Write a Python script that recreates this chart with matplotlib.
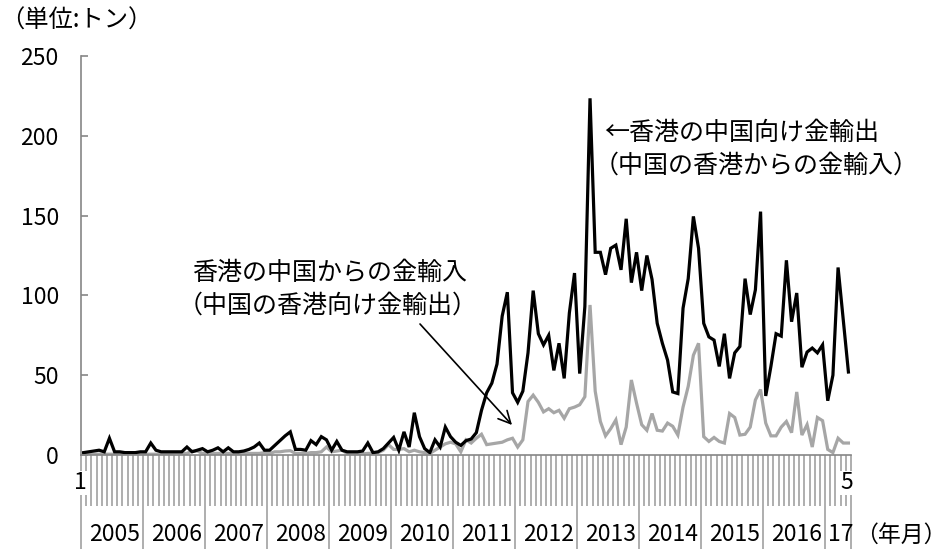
import numpy as np
import matplotlib.pyplot as plt
from matplotlib.transforms import blended_transform_factory

plt.rcParams['font.family'] = ['Noto Sans CJK JP', 'DejaVu Sans']

# monthly gold trade, tonnes, Jan 2005 - May 2017
hk_to_china = [
    1.5, 2, 2.5, 3, 2, 10.5, 2, 2, 1.5, 1.5, 1.5, 2,              # 2005
    2, 7.5, 3, 2, 2, 2, 2, 2, 5, 2, 3, 4,                         # 2006
    2, 3, 4.5, 2, 4.5, 2, 2, 2.5, 3.5, 5, 7.5, 3,                 # 2007
    3, 6, 9, 12, 14.5, 3.5, 3.5, 3, 9, 6.5, 11.5, 9.5,            # 2008
    3, 8.5, 3, 2, 2, 2, 2.5, 7.5, 1.5, 2, 4, 7.5,                 # 2009
    11, 3, 14.5, 5, 26.5, 11.5, 4, 1.5, 9.5, 5, 17.5, 11.5,       # 2010
    8, 6, 9, 10, 14, 28, 39, 45, 57, 87, 102, 39,                 # 2011
    33, 40, 64, 103, 76, 69, 75, 53, 70, 48, 89, 114,             # 2012
    51, 93, 223.5, 127, 127, 113, 129.5, 131.5, 116, 148, 108, 127,  # 2013
    103, 125, 110, 82.5, 70, 59.5, 39.5, 38.5, 92, 110.5, 149.5, 129.5,  # 2014
    82.5, 74, 72, 55.5, 76, 48, 64, 68, 110.5, 88, 103.5, 152.5,  # 2015
    37, 55.5, 76, 74.5, 122, 83.5, 101.5, 55, 64.5, 67, 64, 69,   # 2016
    34, 50, 117.5, 84.5, 52,                                      # 2017
]
china_to_hk = [
    0.5, 0.5, 0.5, 0.5, 0.5, 0.5, 0.5, 0.5, 0.5, 0.5, 0.5, 0.5,
    0.5, 0.5, 0.5, 0.5, 0.5, 1, 1.5, 1, 1, 2.5, 2.5, 1,
    1, 1, 1, 1, 1, 1, 1, 1, 1, 1, 1, 1.5,
    1, 2, 2, 2.5, 2.7, 1, 1, 1, 1.5, 1.5, 2, 5,
    2, 2.5, 3, 1, 0.7, 0.7, 0.7, 1, 1, 1.5, 3, 6.5,
    3.5, 3.5, 4, 2, 3, 2, 1.5, 1, 3, 5, 7, 8,
    7, 2, 9.5, 7.5, 10.5, 13, 6.5, 7, 7.5, 8, 9.5, 10.5,
    5, 9.5, 33.5, 37.5, 33, 27, 29, 26.5, 28, 23, 29, 30,
    31.5, 36.5, 94, 40, 21, 12, 16.5, 22, 6.5, 17.5, 47, 32.5,
    19, 15.5, 26, 15.5, 15, 20, 18, 12.5, 30, 43, 62.5, 70,
    11.5, 8.5, 11, 8.5, 7.5, 26, 23.5, 12.5, 13, 17.5, 34.5, 41,
    20, 12, 12, 17.5, 21, 14, 39.5, 12.5, 19, 5, 23.5, 21.5,
    3.5, 1.5, 10.5, 7.5, 7.5,
]
year_labels = ['2005', '2006', '2007', '2008', '2009', '2010', '2011',
               '2012', '2013', '2014', '2015', '2016', '17']
months_per_year = [12] * 12 + [5]

W, H = 949, 549
fig = plt.figure(figsize=(W / 100, H / 100), dpi=100)
ax = fig.add_axes([81 / W, 1 - 455 / H, 770 / W, 399 / H])

x = np.arange(len(hk_to_china))
ax.plot(x, china_to_hk, color='#a6a6a6', lw=2.3, solid_joinstyle='miter')
ax.plot(x, hk_to_china, color='black', lw=2.3, solid_joinstyle='miter')

ax.set_xlim(-0.5, len(x) - 0.5)
ax.set_ylim(0, 250)
for s in ['top', 'right']:
    ax.spines[s].set_visible(False)
for s in ['left', 'bottom']:
    ax.spines[s].set_color('#868686')
    ax.spines[s].set_linewidth(1.2)

ax.set_yticks(range(0, 251, 50))
ax.tick_params(axis='y', direction='in', length=5, width=1.2, color='#868686',
               labelsize=16.5, pad=16)

bounds = np.cumsum([0] + months_per_year) - 0.5
ax.set_xticks(bounds)
ax.set_xticklabels([''] * len(bounds))
ax.set_xticks(x - 0.5, minor=True)
ax.tick_params(axis='x', which='major', direction='out', length=68, width=1.1,
               color='#999999')
ax.tick_params(axis='x', which='minor', direction='out', length=37, width=1.1,
               color='#999999')

trans = blended_transform_factory(ax.transData, ax.transAxes)
ax.text(-0.6, -0.07, '1', transform=trans, ha='center', va='center', fontsize=16.5,
        bbox=dict(fc='white', ec='none', pad=0.3))
ax.text(len(x) - 1.4, -0.07, '5', transform=trans, ha='center', va='center',
        fontsize=16.5, bbox=dict(fc='white', ec='none', pad=0.3))
for lab, a, b in zip(year_labels, bounds[:-1], bounds[1:]):
    ax.text((a + b) / 2 + 0.5, -0.2, lab, transform=trans, ha='center',
            va='center', fontsize=16.5)

fig.text(0, 1 - 21 / H, '（単位:トン）', fontsize=17.5, va='center')
fig.text(855 / W, 1 - 535 / H, '（年月）', fontsize=16.5, va='center')

fig.text(604 / W, 1 - 133 / H, '←香港の中国向け金輸出', fontsize=18, va='center')
fig.text(594 / W, 1 - 166 / H, '（中国の香港からの金輸入）', fontsize=18, va='center')
fig.text(192 / W, 1 - 273 / H, '香港の中国からの金輸入', fontsize=18, va='center')
fig.text(178 / W, 1 - 306 / H, '（中国の香港向け金輸出）', fontsize=18, va='center')

ax.annotate('', xy=(512 / W, 1 - 425 / H), xytext=(420 / W, 1 - 324 / H),
            xycoords='figure fraction', textcoords='figure fraction',
            arrowprops=dict(arrowstyle='->', color='black', lw=1.2,
                            mutation_scale=22, shrinkA=0, shrinkB=0))

fig.savefig('out.png', dpi=100)
